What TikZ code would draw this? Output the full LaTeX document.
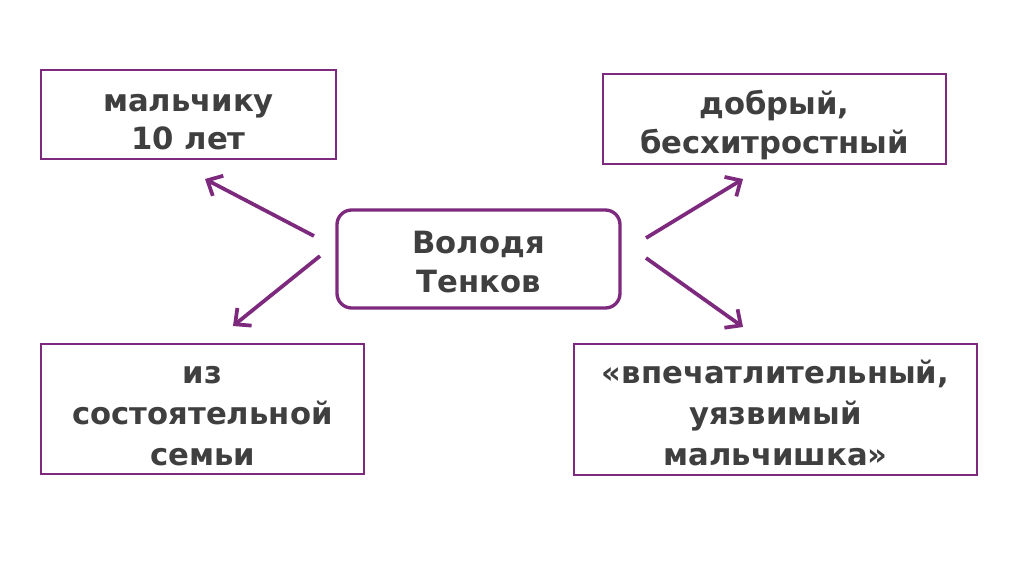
\documentclass[tikz,border=0pt]{standalone}
\usepackage{fontspec}
\setmainfont{DejaVu Sans}
\usetikzlibrary{arrows.meta}
\definecolor{frame}{HTML}{7D2A7E}
\definecolor{txt}{HTML}{3F3F3F}
\tikzset{
  box/.style={draw=frame, line width=1.8pt, inner sep=0pt},
  lbl/.style={text=txt, font=\bfseries\fontsize{23}{29}\selectfont, align=center, inner sep=0pt},
  lblthree/.style={lbl, font=\bfseries\fontsize{23}{30.5}\selectfont},
  conn/.style={draw=frame, line width=2.8pt, -{Straight Barb[length=9pt,width=17pt,line width=2.8pt]}}
}
\begin{document}
\begin{tikzpicture}[x=0.75pt,y=-0.75pt]
\useasboundingbox (0,0) rectangle (1024,574);
\fill[white] (0,0) rectangle (1024,574);
\node[box, minimum width=295*0.75pt, minimum height=89*0.75pt] (tl) at (188.5,114.5) {};
\node[lbl] (tlt) at (188.5,122) {мальчику\\10 лет};
\node[box, minimum width=343*0.75pt, minimum height=90*0.75pt] (tr) at (774.5,119) {};
\node[lbl] (trt) at (774.5,125) {добрый,\\бесхитростный};
\node[box, line width=2.5pt, rounded corners=11pt, minimum width=283*0.75pt, minimum height=98*0.75pt] (c) at (478.5,259) {};
\node[lbl] (ct) at (478.5,262) {Володя\\Тенков};
\node[box, minimum width=323*0.75pt, minimum height=130*0.75pt] (bl) at (202.5,409) {};
\node[lblthree] (blt) at (202.5,416) {из\\состоятельной\\семьи};
\node[box, minimum width=403*0.75pt, minimum height=131*0.75pt] (br) at (775.5,409.5) {};
\node[lblthree] (brt) at (775.5,413) {«впечатлительный,\\уязвимый\\мальчишка»};
\coordinate (a1s) at (314,236); \coordinate (a1e) at (205,179);
\coordinate (a2s) at (320,256); \coordinate (a2e) at (233,326);
\coordinate (a3s) at (646,238); \coordinate (a3e) at (743,179);
\coordinate (a4s) at (646,258); \coordinate (a4e) at (743,327);
\draw[conn] (a1s) -- (a1e);
\draw[conn] (a2s) -- (a2e);
\draw[conn] (a3s) -- (a3e);
\draw[conn] (a4s) -- (a4e);
\end{tikzpicture}
\end{document}
